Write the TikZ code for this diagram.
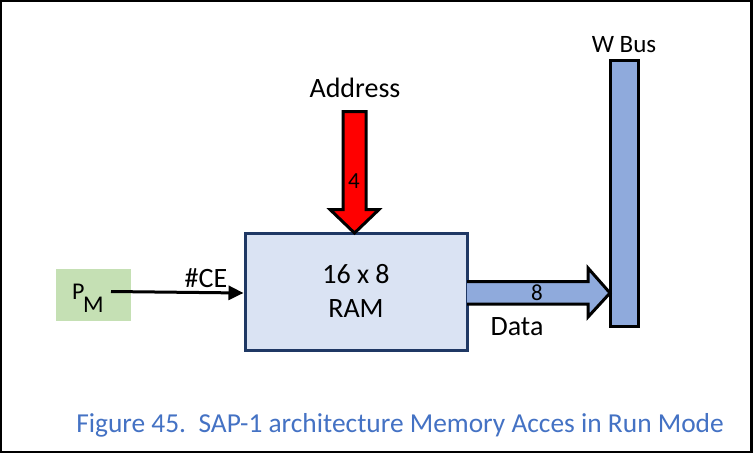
\documentclass[tikz,border=0pt]{standalone}
\usepackage{fontspec}
\setmainfont{Carlito}
\usetikzlibrary{arrows.meta}
\definecolor{pmgreen}{HTML}{C5E0B4}
\definecolor{ramfill}{HTML}{DAE3F3}
\definecolor{ramedge}{HTML}{1F3864}
\definecolor{busblue}{HTML}{8FAADC}
\definecolor{capblue}{HTML}{4472C4}
\tikzset{
  lbl/.style={inner sep=0pt, font=\fontsize{28}{30}\selectfont},
  digitlbl/.style={inner sep=0pt, font=\fontsize{23}{25}\selectfont},
  blockarrow/.style={draw=black, line width=3pt, line join=miter},
}
\begin{document}
\begin{tikzpicture}[x=1pt,y=-1pt]
\useasboundingbox (0,0) rectangle (756,456);
\fill[white] (0,0) rectangle (756,456);
\draw[line width=2.5pt] (1.2,1.2) rectangle (751.5,452.2);
% PM box
\node[fill=pmgreen, minimum width=75pt, minimum height=52pt, inner sep=0pt] (pm) at (93.5,295) {};
\node[inner sep=0pt, anchor=base west, font=\fontsize{24}{26}\selectfont] (pmP) at (72,299) {P};
\node[inner sep=0pt, anchor=base west, font=\fontsize{24}{26}\selectfont] (pmM) at (83,312) {M};
\coordinate (pmout) at (111,291.5);
% RAM
\node[fill=ramfill, draw=ramedge, line width=3pt, minimum width=222pt, minimum height=117pt, inner sep=0pt] (ram) at (356,291.5) {};
\node[lbl, anchor=base] (ramt1) at (356,283) {16 x 8};
\node[lbl, anchor=base] (ramt2) at (356,317) {RAM};
% CE arrow
\draw[line width=3pt, -{Triangle[length=15pt,width=14pt]}] (pmout) -- (ram.west |- 0,293);
\node[lbl, anchor=base] (ce) at (206,287) {\#CE};
% Address block arrow
\draw[blockarrow, fill=red] (343,111.5) -- (366,111.5) -- (366,209.5) -- (379,209.5) -- (354.5,233) -- (330,209.5) -- (343,209.5) -- cycle;
\node[digitlbl, anchor=base] (four) at (354,188) {4};
\node[lbl, anchor=base] (addr) at (355,97) {Address};
% W Bus
\node[draw=black, fill=busblue, line width=3pt, minimum width=28pt, minimum height=266pt, inner sep=0pt] (bus) at (624.5,193.5) {};
\node[inner sep=0pt, anchor=base, font=\fontsize{25}{27}\selectfont] (wbus) at (624,52) {W Bus};
% Data block arrow
\draw[blockarrow, fill=busblue] (467,281.5) -- (588,281.5) -- (588,268) -- (610,293) -- (588,317) -- (588,304) -- (467,304);
\node[digitlbl, anchor=base] (eight) at (537,300) {8};
\node[lbl, anchor=base] (data) at (517,335) {Data};
% caption
\node[anchor=base, inner sep=0pt, text=capblue, font=\fontsize{27.4}{29}\selectfont] (cap) at (400,432) {Figure 45.\ \ SAP-1 architecture Memory Acces in Run Mode};
\end{tikzpicture}
\end{document}
